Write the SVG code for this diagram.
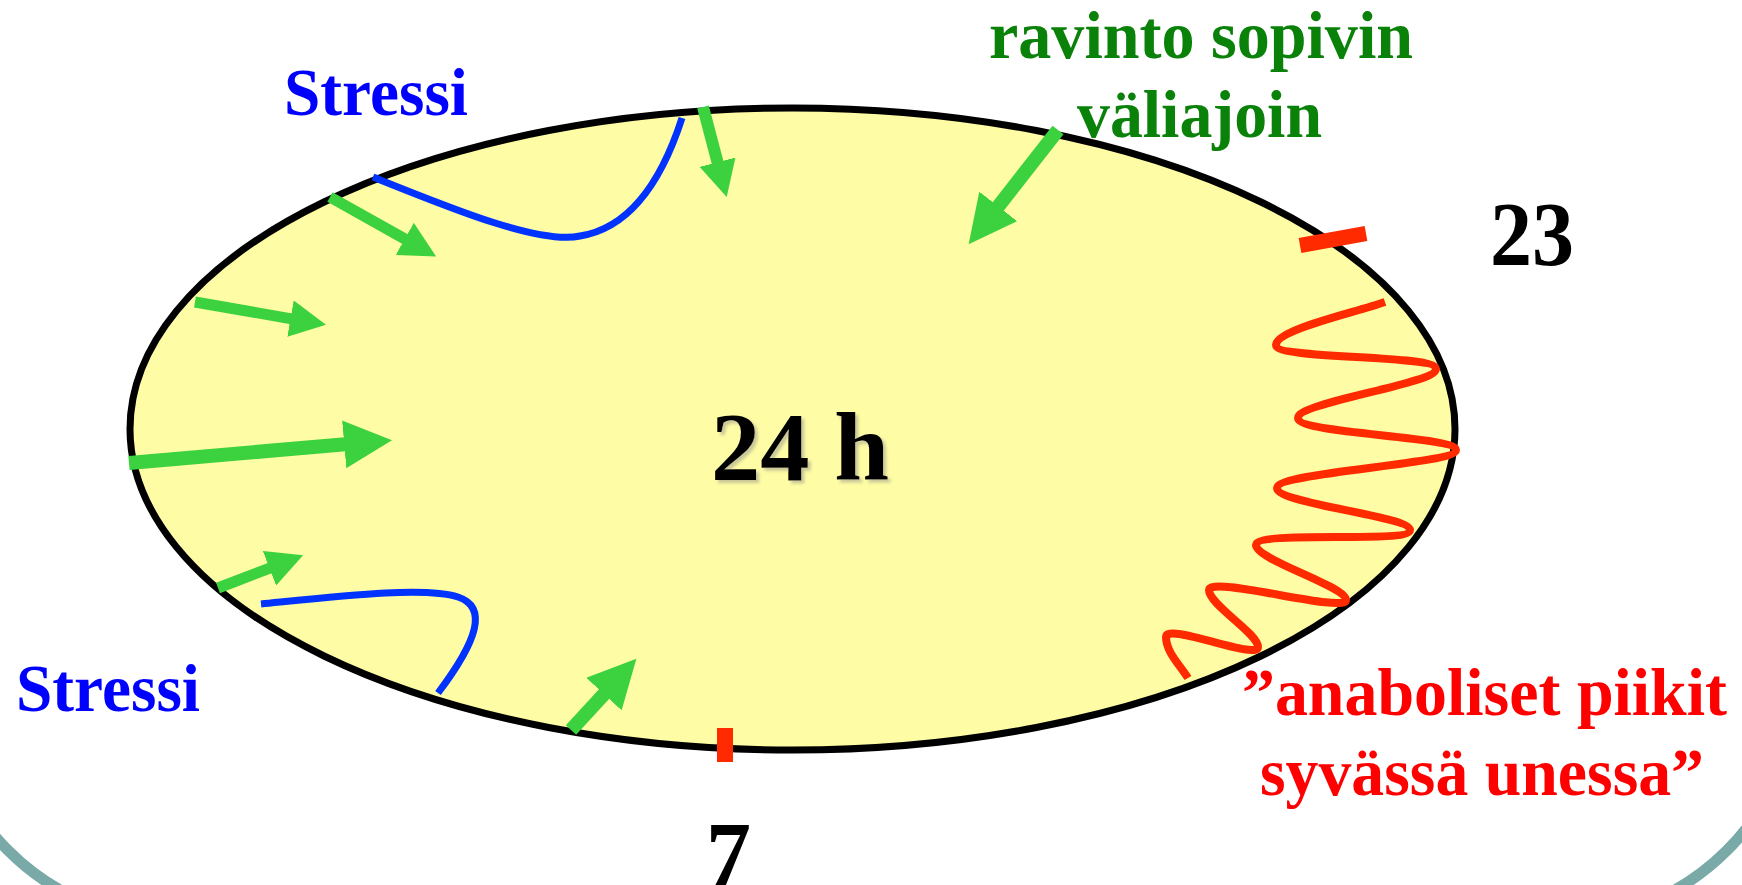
<svg xmlns="http://www.w3.org/2000/svg" width="1742" height="885" viewBox="0 0 1742 885">
  <defs>
    <style>
      .lbl { font-family: "Liberation Serif", "Times New Roman", serif; font-weight: bold; }
      .blue { fill: #0000FF; }
      .green { fill: #0A820A; }
      .red { fill: #FF0000; }
      .black { fill: #000000; }
      .arrow { stroke: #3CD13F; fill: none; stroke-linecap: butt; }
      .stress { stroke: #0033FF; stroke-width: 7; fill: none; }
      .wave { stroke: #FF2A00; stroke-width: 8; fill: none; stroke-linejoin: round; }
    </style>
    <marker id="headS" markerUnits="userSpaceOnUse" markerWidth="36" markerHeight="37" refX="1" refY="18.5" orient="auto" viewBox="0 0 36 37">
      <path d="M0,0 L36,18.5 L0,37 z" fill="#3CD13F"/>
    </marker>
    <marker id="headL" markerUnits="userSpaceOnUse" markerWidth="48" markerHeight="48" refX="1" refY="24" orient="auto" viewBox="0 0 48 48">
      <path d="M0,0 L48,24 L0,48 z" fill="#3CD13F"/>
    </marker>
    <filter id="shadow" x="-10%" y="-10%" width="130%" height="130%">
      <feDropShadow dx="3" dy="3" stdDeviation="1.5" flood-color="#888888" flood-opacity="0.45"/>
    </filter>
  </defs>

  <rect x="0" y="0" width="1742" height="885" fill="#FFFFFF"/>

  <g id="frame">
    <rect x="-62" y="-300" width="1859" height="1221" rx="240" ry="240" fill="none" stroke="#79AAA8" stroke-width="11"/>
  </g>

  <g id="day-cycle">
    <ellipse cx="792.5" cy="429" rx="662.5" ry="321" fill="#FEFCA4" stroke="#000000" stroke-width="7"/>
    <text class="lbl black" x="711" y="480" font-size="98" textLength="178" lengthAdjust="spacingAndGlyphs" filter="url(#shadow)">24 h</text>
  </g>

  <g id="stress-top">
    <path class="stress" d="M373 177 C450 208 540 245 580 236 C630 228 662 180 682 118"/>
    <text class="lbl blue" x="284" y="115" font-size="67" textLength="184" lengthAdjust="spacingAndGlyphs">Stressi</text>
  </g>

  <g id="stress-bottom">
    <path class="stress" d="M261 604 C340 596 425 586 458 597 C488 607 478 640 438 693"/>
    <text class="lbl blue" x="16" y="711" font-size="67" textLength="184" lengthAdjust="spacingAndGlyphs">Stressi</text>
  </g>

  <g id="anabolic-peaks">
    <path class="wave" d="M1385 302 C1350 314 1276 330 1276 345 C1276 360 1436 354 1436 369 C1436 384 1298 402 1298 418 C1298 434 1456 436 1456 450 C1456 464 1277 472 1277 488 C1277 504 1410 516 1410 530 C1410 544 1256 530 1256 545 C1256 560 1346 586 1346 600 C1346 614 1209 575 1209 590 C1209 605 1258 633 1258 647 C1258 661 1166 622 1166 637 C1166 652 1180 665 1188 678"/>
    <text class="lbl red" x="1242" y="715" font-size="67" textLength="485" lengthAdjust="spacingAndGlyphs">”anaboliset piikit</text>
    <text class="lbl red" x="1260" y="795" font-size="67" textLength="444" lengthAdjust="spacingAndGlyphs">syvässä unessa”</text>
  </g>

  <g id="nutrition">
    <text class="lbl green" x="989" y="58" font-size="67" textLength="424" lengthAdjust="spacingAndGlyphs">ravinto sopivin</text>
    <text class="lbl green" x="1077" y="137" font-size="67" textLength="245" lengthAdjust="spacingAndGlyphs">väliajoin</text>
  </g>

  <g id="connectors">
    <line class="arrow" x1="703" y1="107" x2="717.8" y2="163.2" stroke-width="12" marker-end="url(#headS)"/>
    <line class="arrow" x1="330" y1="197" x2="405.6" y2="239.4" stroke-width="11" marker-end="url(#headS)"/>
    <line class="arrow" x1="195" y1="302" x2="291.5" y2="318.8" stroke-width="11" marker-end="url(#headS)"/>
    <line class="arrow" x1="129" y1="463" x2="345.2" y2="444.2" stroke-width="14" marker-end="url(#headL)"/>
    <line class="arrow" x1="218" y1="588" x2="270.4" y2="567.9" stroke-width="11" marker-end="url(#headS)"/>
    <line class="arrow" x1="571" y1="730" x2="604.6" y2="693.4" stroke-width="14" marker-end="url(#headL)"/>
    <line class="arrow" x1="1058" y1="130" x2="997.6" y2="207.2" stroke-width="14" marker-end="url(#headL)"/>
  </g>

  <g id="tick-23">
    <line x1="1300" y1="245.5" x2="1366" y2="233.5" stroke="#FF2A00" stroke-width="15"/>
    <text class="lbl black" x="1490" y="265" font-size="90" textLength="84" lengthAdjust="spacingAndGlyphs">23</text>
  </g>

  <g id="tick-7">
    <rect x="717" y="728" width="16" height="34" fill="#FF2A00"/>
    <text class="lbl black" x="706" y="885" font-size="90">7</text>
  </g>
</svg>
